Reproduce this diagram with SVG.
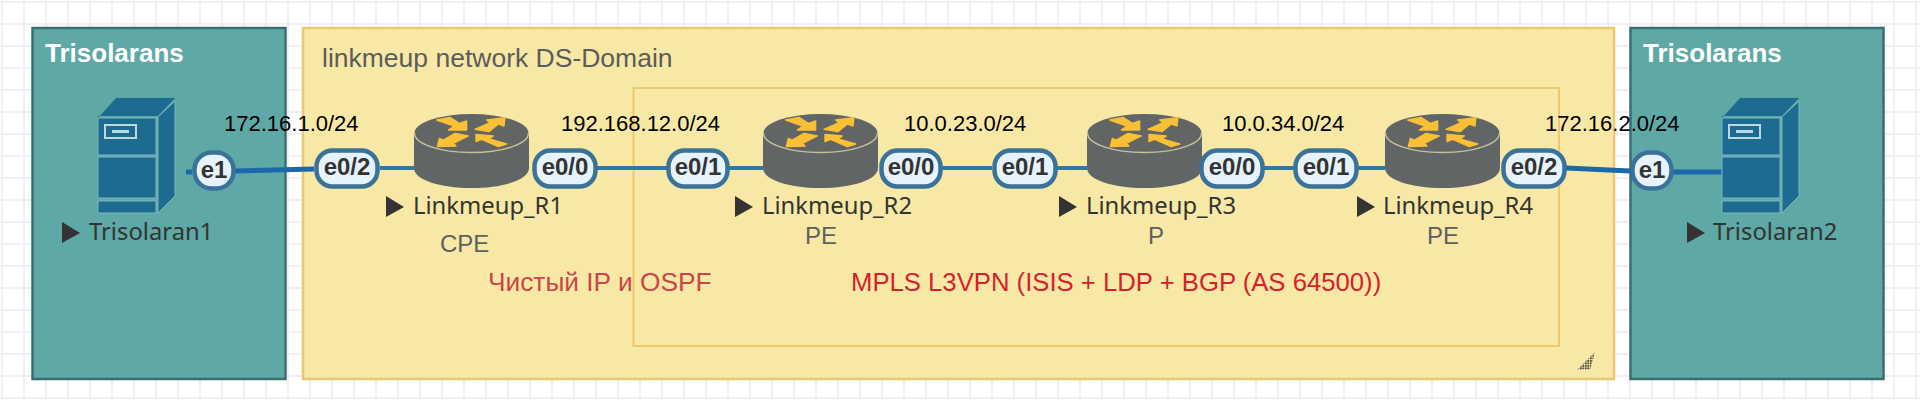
<svg xmlns="http://www.w3.org/2000/svg" width="1920" height="400" viewBox="0 0 1920 400">
<style>
.sans{font-family:"Liberation Sans",Arial,sans-serif}
.ip{font-size:22px;fill:#000}
.lab{font-family:"Noto Sans","Open Sans",sans-serif;font-size:23.800px;fill:#333}
.role{font-size:24px;fill:#5f5f5f}
.title{font-size:26px;font-weight:bold;fill:#fff}
.pill{fill:#e6f3fd;stroke:#3a7299;stroke-width:4.500}
.pt{font-family:"Liberation Sans",Arial,sans-serif;font-size:24px;font-weight:bold;fill:#333;text-anchor:middle}
.thin{stroke:#2f78a8;stroke-width:4;fill:none}
.thick{stroke:#1b68ab;stroke-width:5;fill:none}
.arrow{fill:#f9c035;stroke:#f9c035;stroke-width:4;stroke-linejoin:round}
</style>
<defs>
<pattern id="grid" width="22" height="22" patternUnits="userSpaceOnUse" x="1" y="1">
<path d="M0 0H2V22H0ZM2 0H22V2H2Z" fill="#f0f0f4"/>
</pattern>
<pattern id="dots" width="2.500" height="2.500" patternUnits="userSpaceOnUse">
<rect width="1.800" height="1.800" fill="#4c4a38"/>
</pattern>
<g id="router">
<path d="M0 20V55C0 67 26 75 57.500 75S115 67 115 55V20Z" fill="#626566"/>
<ellipse cx="57.500" cy="20" rx="57" ry="19" fill="#626566"/>
<path d="M0.500 20C0.500 31 26 39.500 57.500 39.500S114.500 31 114.500 20" fill="none" stroke="#c9c09a" stroke-width="1.500"/>
<g transform="translate(-24 -13) scale(.3333)">
<path class="arrow" d="M140 60L180 52 208 70 230 63V90H175L192 78Z"/>
<path class="arrow" d="M290 60L345 53 342 78 325 72 297 95 255 88 300 68Z"/>
<path class="arrow" d="M142 140L148 115 160 120 195 100 235 108 190 130 198 138Z"/>
<path class="arrow" d="M258 125V103L310 108 297 117 350 132 325 140 275 118Z"/>
</g>
</g>
<g id="server">
<path d="M0 20L18 0H77L60 18H0Z" fill="#1e6b92"/>
<path d="M60 19L77 3 77 98 60 115Z" fill="#1e6b92" stroke="#7fb5c2" stroke-width="1"/>
<rect x="0" y="20" width="58" height="37" fill="#1e6b92" stroke="#7fb5c2" stroke-width="1"/>
<rect x="0" y="59" width="58" height="41" fill="#1e6b92" stroke="#7fb5c2" stroke-width="1"/>
<rect x="0" y="103" width="58" height="12" fill="#1e6b92" stroke="#7fb5c2" stroke-width="1"/>
<rect x="7" y="27" width="31" height="13" fill="none" stroke="#b9d9de" stroke-width="2"/>
<rect x="14" y="32" width="17" height="3" fill="#b9d9de"/>
</g>
<path id="tri" d="M0 0L18 11 0 21Z" fill="#333"/>
</defs>
<rect width="1920" height="400" fill="#fff"/>
<rect width="1920" height="400" fill="url(#grid)"/>
<g id="trisolarans-left">
<rect x="32.500" y="28" width="253" height="351" fill="#5ea8a6" stroke="#3b6f6f" stroke-width="2.500"/>
<text class="sans title" x="45" y="62">Trisolarans</text>
</g>
<g id="domain">
<rect x="303" y="28" width="1311" height="351" fill="#f7e8a5" stroke="#ecc870" stroke-width="2.500"/>
<text class="sans" x="322" y="67" font-size="26.500" fill="#5c5c5c">linkmeup network DS-Domain</text>
</g>
<g id="trisolarans-right">
<rect x="1630.500" y="28" width="253" height="351" fill="#5ea8a6" stroke="#3b6f6f" stroke-width="2.500"/>
<text class="sans title" x="1643" y="62">Trisolarans</text>
</g>
<g id="mpls">
<rect x="633.500" y="88" width="925.500" height="258" fill="#f7e8a5" stroke="#ecc870" stroke-width="2"/>
</g>
<g id="connectors">
<path class="thick" d="M186 172H192M235 171L314 169"/>
<path class="thin" d="M380 168H414M597 168H667M729 168H763M942 168H992M1057 168H1087M1264 168H1294M1358 168H1385"/>
<path class="thick" d="M1566 168L1630 171M1673 172H1722"/>
</g>
<g id="Trisolaran1">
<use href="#server" x="98" y="98"/>
<use href="#tri" x="62" y="222"/>
<text class="lab" x="89" y="240">Trisolaran1</text>
</g>
<g id="Linkmeup_R1">
<use href="#router" x="414" y="113"/>
<use href="#tri" x="386" y="196"/>
<text class="lab" x="413" y="214">Linkmeup_R1</text>
<text class="sans role" x="440" y="252">CPE</text>
</g>
<g id="Linkmeup_R2">
<use href="#router" x="763" y="113"/>
<use href="#tri" x="735" y="196"/>
<text class="lab" x="762" y="214">Linkmeup_R2</text>
<text class="sans role" x="805" y="244">PE</text>
</g>
<g id="Linkmeup_R3">
<use href="#router" x="1087" y="113"/>
<use href="#tri" x="1059" y="196"/>
<text class="lab" x="1086" y="214">Linkmeup_R3</text>
<text class="sans role" x="1148" y="244">P</text>
</g>
<g id="Linkmeup_R4">
<use href="#router" x="1385" y="113"/>
<use href="#tri" x="1357" y="196"/>
<text class="lab" x="1383" y="214">Linkmeup_R4</text>
<text class="sans role" x="1427" y="244">PE</text>
</g>
<g id="Trisolaran2">
<use href="#server" x="1722" y="98"/>
<use href="#tri" x="1687" y="222"/>
<text class="lab" x="1713" y="240">Trisolaran2</text>
</g>
<g id="ports">
<g id="p1"><rect class="pill" x="194.500" y="152.500" width="39" height="36" rx="17"/><text class="pt" x="214" y="178">e1</text></g>
<g id="p2"><rect class="pill" x="316.500" y="150.500" width="61" height="36" rx="16"/><text class="pt" x="347" y="175">e0/2</text></g>
<g id="p3"><rect class="pill" x="534.500" y="150.500" width="61" height="36" rx="16"/><text class="pt" x="565" y="175">e0/0</text></g>
<g id="p4"><rect class="pill" x="668.500" y="150.500" width="59" height="36" rx="16"/><text class="pt" x="698" y="175">e0/1</text></g>
<g id="p5"><rect class="pill" x="881.500" y="150.500" width="59" height="36" rx="16"/><text class="pt" x="911" y="175">e0/0</text></g>
<g id="p6"><rect class="pill" x="994.500" y="150.500" width="61" height="36" rx="16"/><text class="pt" x="1025" y="175">e0/1</text></g>
<g id="p7"><rect class="pill" x="1201.500" y="150.500" width="61" height="36" rx="16"/><text class="pt" x="1232" y="175">e0/0</text></g>
<g id="p8"><rect class="pill" x="1295.500" y="150.500" width="61" height="36" rx="16"/><text class="pt" x="1326" y="175">e0/1</text></g>
<g id="p9"><rect class="pill" x="1503.500" y="150.500" width="61" height="36" rx="16"/><text class="pt" x="1534" y="175">e0/2</text></g>
<g id="p10"><rect class="pill" x="1632.500" y="152.500" width="39" height="36" rx="17"/><text class="pt" x="1652" y="178">e1</text></g>
</g>
<g id="labels">
<text class="sans ip" x="224" y="131">172.16.1.0/24</text>
<text class="sans ip" x="561" y="131">192.168.12.0/24</text>
<text class="sans ip" x="904" y="131">10.0.23.0/24</text>
<text class="sans ip" x="1222" y="131">10.0.34.0/24</text>
<text class="sans ip" x="1545" y="131">172.16.2.0/24</text>
<text class="sans" x="488" y="291" font-size="26.300" fill="#c9474a">Чистый IP и OSPF</text>
<text class="sans" x="851" y="291" font-size="25.700" fill="#d71f2d">MPLS L3VPN (ISIS + LDP + BGP (AS 64500))</text>
</g>
<path id="resize" d="M1577 370L1595 352 1590 370Z" fill="url(#dots)"/>
</svg>
